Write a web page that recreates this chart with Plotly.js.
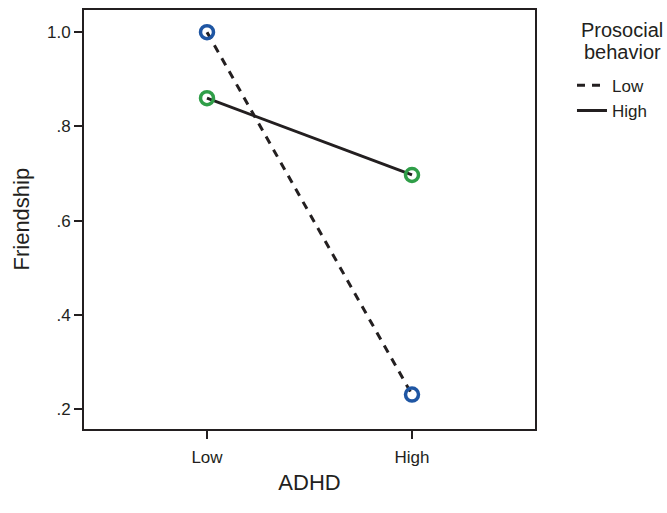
<!DOCTYPE html>
<html><head><meta charset="utf-8">
<script src="https://cdn.plot.ly/plotly-3.0.1.min.js"></script>
<style>body{margin:0;background:#fff}#c{width:667px;height:513px}</style>
</head><body><div id="c"></div>
<script>
const adhd = ["Low", "High"];
const prosocialLow = [1.0, 0.231];
const prosocialHigh = [0.860, 0.697];
const yTickVals = [0.2, 0.4, 0.6, 0.8, 1.0];
const yTickText = [".2", ".4", ".6", ".8", "1.0"];

const lineCol = "#231f20";
const traces = [
  {x: adhd, y: prosocialLow, mode: "lines", name: "Low",
   line: {color: lineCol, width: 3, dash: "8px,7px"}},
  {x: adhd, y: prosocialHigh, mode: "lines", name: "High",
   line: {color: lineCol, width: 3}},
  {x: adhd, y: prosocialLow, mode: "markers", showlegend: false,
   marker: {symbol: "circle-open", size: 13, color: "#1f56a3", line: {width: 3.5, color: "#1f56a3"}}},
  {x: adhd, y: prosocialHigh, mode: "markers", showlegend: false,
   marker: {symbol: "circle-open", size: 13, color: "#2f9e48", line: {width: 3.5, color: "#2f9e48"}}}
];
const layout = {
  width: 667, height: 513,
  margin: {l: 84, r: 132, t: 10, b: 84},
  paper_bgcolor: "#fff", plot_bgcolor: "#fff",
  font: {family: "Liberation Sans, Arial, sans-serif", color: "#231f20", size: 18},
  xaxis: {type: "category", range: [-0.6, 1.6], showgrid: false, zeroline: false,
    showline: true, mirror: true, linecolor: lineCol, linewidth: 2,
    ticks: "outside", ticklen: 8, tickwidth: 2, tickcolor: lineCol,
    tickfont: {size: 17}, ticklabelstandoff: 4,
    title: {text: "ADHD", font: {size: 22}, standoff: 8}},
  yaxis: {range: [0.158, 1.047], showgrid: false, zeroline: false,
    showline: true, mirror: true, linecolor: lineCol, linewidth: 2,
    ticks: "outside", ticklen: 8, tickwidth: 2, tickcolor: lineCol,
    tickvals: yTickVals, ticktext: yTickText, tickfont: {size: 17}},
  showlegend: true,
  legend: {x: 1.082, xanchor: "left", y: 0.862, yanchor: "top",
    bgcolor: "rgba(0,0,0,0)", font: {size: 17}, itemwidth: 30, tracegroupgap: 0},
  annotations: [
    {text: "Friendship", xref: "paper", yref: "paper",
     x: (21 - 84) / 451, y: 0.5, xanchor: "center", yanchor: "middle", showarrow: false,
     textangle: -90, font: {size: 22}},
    {text: "Prosocial", xref: "paper", yref: "paper",
     x: 1.193, y: (429 - 30) / 419, xanchor: "center", yanchor: "middle", showarrow: false,
     font: {size: 20}},
    {text: "behavior", xref: "paper", yref: "paper",
     x: 1.193, y: (429 - 52) / 419, xanchor: "center", yanchor: "middle", showarrow: false,
     font: {size: 20}}
  ]
};
Plotly.newPlot("c", traces, layout, {displayModeBar: false, staticPlot: true});
</script></body></html>
